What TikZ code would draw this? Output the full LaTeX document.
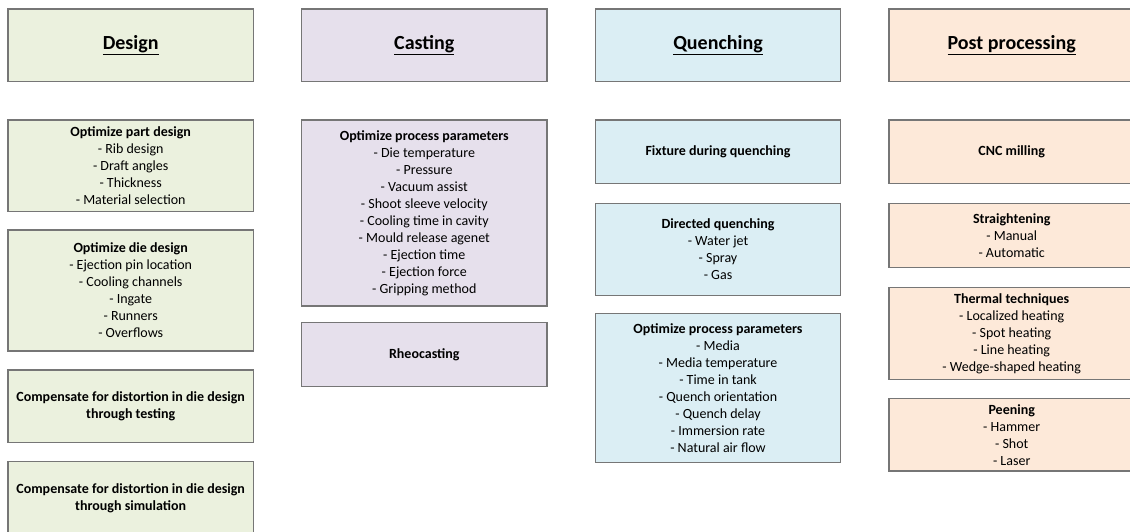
\documentclass[tikz,border=0pt]{standalone}
\usepackage{fontspec}
\setmainfont{Carlito}
\definecolor{dsg}{HTML}{EBF1DE}
\definecolor{cst}{HTML}{E6E0EC}
\definecolor{qch}{HTML}{DBEEF4}
\definecolor{pst}{HTML}{FDE9D9}
\definecolor{bord}{HTML}{767676}
\begin{document}
\begin{tikzpicture}[x=1pt,y=-1pt,
  box/.style={draw=bord, line width=1.3pt, rectangle, minimum width=245.3pt, inner sep=0pt, align=center, font=\fontsize{14}{17}\selectfont},
  head/.style={box, minimum height=72.7pt, font=\fontsize{20}{24}\selectfont\bfseries},
  design/.style={fill=dsg}, casting/.style={fill=cst}, quench/.style={fill=qch}, post/.style={fill=pst}]
\useasboundingbox (0,0) rectangle (1130,532);
\clip (0,0) rectangle (1130,532);
% headers
\node[head,design] (hd) at (130.7,45.3) {\underline{Design}};
\node[head,casting] (hc) at (424.3,45.3) {\underline{Casting}};
\node[head,quench] (hq) at (718,45.3) {\underline{Quenching}};
\node[head,post] (hp) at (1011.7,45.3) {\underline{Post processing}};
% design column
\node[box,design,minimum height=91.7pt] (d1) at (130.7,165.8) {\textbf{Optimize part design}\\- Rib design\\- Draft angles\\- Thickness\\- Material selection};
\node[box,design,minimum height=121pt] (d2) at (130.7,290.5) {\textbf{Optimize die design}\\- Ejection pin location\\- Cooling channels\\- Ingate\\- Runners\\- Overflows};
\node[box,design,minimum height=72.7pt] (d3) at (130.7,406.3) {\textbf{Compensate for distortion in die design}\\\textbf{through testing}};
\node[box,design,minimum height=72.7pt] (d4) at (130.7,498) {\textbf{Compensate for distortion in die design}\\\textbf{through simulation}};
% casting column
\node[box,casting,minimum height=186pt] (c1) at (424.3,213) {\textbf{Optimize process parameters}\\- Die temperature\\- Pressure\\- Vacuum assist\\- Shoot sleeve velocity\\- Cooling time in cavity\\- Mould release agenet\\- Ejection time\\- Ejection force\\- Gripping method};
\node[box,casting,minimum height=64pt] (c2) at (424.3,354.7) {\textbf{Rheocasting}};
% quenching column
\node[box,quench,minimum height=63.7pt] (q1) at (718,151.8) {\textbf{Fixture during quenching}};
\node[box,quench,minimum height=91.6pt] (q2) at (718,249.5) {\textbf{Directed quenching}\\- Water jet\\- Spray\\- Gas};
\node[box,quench,minimum height=149.4pt] (q3) at (718,388) {\textbf{Optimize process parameters}\\- Media\\- Media temperature\\- Time in tank\\- Quench orientation\\- Quench delay\\- Immersion rate\\- Natural air flow};
% post processing column
\node[box,post,minimum height=63.7pt] (p1) at (1011.7,151.8) {\textbf{CNC milling}};
\node[box,post,minimum height=63.6pt] (p2) at (1011.7,235.5) {\textbf{Straightening}\\- Manual\\- Automatic};
\node[box,post,minimum height=92pt] (p3) at (1011.7,333.3) {\textbf{Thermal techniques}\\- Localized heating\\- Spot heating\\- Line heating\\- Wedge-shaped heating};
\node[box,post,minimum height=72.7pt] (p4) at (1011.7,434.7) {\textbf{Peening}\\- Hammer\\- Shot\\- Laser};
\end{tikzpicture}
\end{document}
